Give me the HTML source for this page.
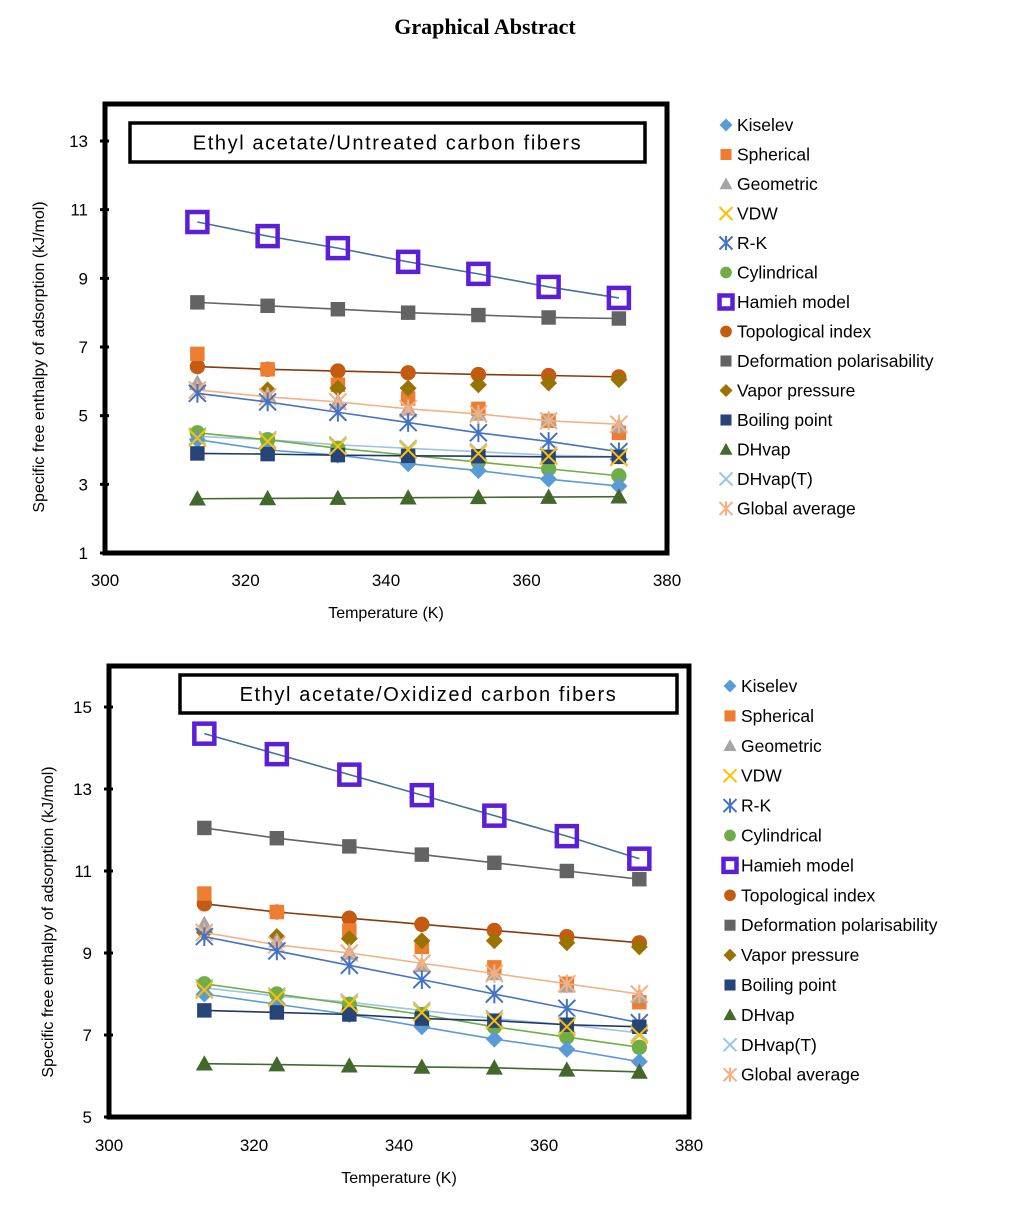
<!DOCTYPE html>
<html><head><meta charset="utf-8">
<style>
body{margin:0;background:#fff;width:1015px;height:1200px;overflow:hidden;font-family:"Liberation Sans",sans-serif}
svg text{font-family:"Liberation Sans","DejaVu Sans",sans-serif}
</style></head>
<body>
<svg id="s" width="1015" height="1200">
<text x="485" y="34" text-anchor="middle" font-weight="bold" font-size="22" style="font-family:'Liberation Serif',serif">Graphical Abstract</text>
</svg>
<script>
const temps=[313.15,323.15,333.15,343.15,353.15,363.15,373.15];
const seriesNames=["Kiselev","Spherical","Geometric","VDW","R-K","Cylindrical","Hamieh model","Topological index","Deformation polarisability","Vapor pressure","Boiling point","DHvap","DHvap(T)","Global average"];
const xTicks=[300,320,340,360,380];
const yTicks1=[1,3,5,7,9,11,13];
const yTicks2=[5,7,9,11,13,15];
const c1Kiselev=[4.3,4.0,3.85,3.6,3.4,3.15,2.95];
const c1Spherical=[6.8,6.35,5.9,5.5,5.2,4.85,4.5];
const c1Geometric=[5.95,5.6,5.4,5.2,5.05,4.9,4.7];
const c1VDW=[4.35,4.25,4.1,4.0,3.9,3.82,3.78];
const c1RK=[5.65,5.4,5.1,4.8,4.5,4.25,3.95];
const c1Cyl=[4.5,4.3,4.05,3.85,3.65,3.45,3.25];
const c1Hamieh=[10.64,10.23,9.88,9.48,9.13,8.75,8.43];
const c1Topo=[6.43,6.35,6.3,6.25,6.2,6.17,6.13];
const c1Deform=[8.3,8.2,8.1,8.0,7.93,7.86,7.83];
const c1Vapor=[5.85,5.75,5.8,5.8,5.9,5.95,6.05];
const c1Boil=[3.9,3.88,3.85,3.83,3.82,3.8,3.8];
const c1DH=[2.58,2.59,2.6,2.61,2.62,2.63,2.64];
const c1DHT=[4.4,4.3,4.15,4.05,3.95,3.85,3.8];
const c1Glob=[5.75,5.55,5.4,5.2,5.05,4.85,4.75];
const c2Kiselev=[8.0,7.75,7.5,7.2,6.9,6.65,6.35];
const c2Spherical=[10.45,10.0,9.55,9.15,8.65,8.25,7.8];
const c2Geometric=[9.7,9.3,9.0,8.7,8.5,8.2,7.95];
const c2VDW=[8.1,7.9,7.75,7.55,7.35,7.2,7.0];
const c2RK=[9.4,9.05,8.7,8.35,8.0,7.65,7.3];
const c2Cyl=[8.25,8.0,7.75,7.5,7.2,6.95,6.7];
const c2Hamieh=[14.35,13.85,13.35,12.85,12.35,11.85,11.3];
const c2Topo=[10.2,10.0,9.85,9.7,9.55,9.4,9.25];
const c2Deform=[12.05,11.8,11.6,11.4,11.2,11.0,10.8];
const c2Vapor=[9.5,9.4,9.35,9.3,9.3,9.25,9.15];
const c2Boil=[7.6,7.55,7.5,7.4,7.35,7.25,7.2];
const c2DH=[6.3,6.28,6.25,6.22,6.2,6.15,6.1];
const c2DHT=[8.15,7.95,7.8,7.6,7.4,7.25,7.05];
const c2Glob=[9.5,9.2,9.0,8.75,8.5,8.25,8.0];

const styles=[["#5b9bd5","diamond"],["#ed7d31","square"],["#a5a5a5","triangle"],["#ffc000","x"],["#4472c4","star"],["#70ad47","circle"],["#5b1fd8","hollow"],["#c55a11","circle"],["#636363","square"],["#997300","diamond"],["#264478","square"],["#43682b","triangle"],["#9dc3e6","x"],["#f4b183","star"]];
const lineCols=["#5b9bd5",null,null,null,"#4472c4","#70ad47","#44709a","#843c0c","#636363",null,"#203864","#43682b","#9dc3e6","#f4b183"];
const NS="http://www.w3.org/2000/svg";
const svg=document.getElementById('s');
function mk(tag,attrs,parent){const e=document.createElementNS(NS,tag);for(const k in attrs)e.setAttribute(k,attrs[k]);(parent||svg).appendChild(e);return e;}
function marker(g,type,col,x,y,s){
  let e;
  if(type=="diamond")e=mk('polygon',{points:`${x},${y-s} ${x+s},${y} ${x},${y+s} ${x-s},${y}`,fill:col},g);
  else if(type=="square")e=mk('rect',{x:x-s*0.85,y:y-s*0.85,width:s*1.7,height:s*1.7,fill:col},g);
  else if(type=="triangle")e=mk('polygon',{points:`${x},${y-s} ${x+s},${y+s*0.8} ${x-s},${y+s*0.8}`,fill:col},g);
  else if(type=="circle")e=mk('circle',{cx:x,cy:y,r:s*0.9,fill:col},g);
  else if(type=="hollow")e=mk('rect',{x:x-s,y:y-s,width:s*2,height:s*2,fill:'none',stroke:col,'stroke-width':4.5},g);
  else if(type=="x")e=mk('path',{d:`M${x-s},${y-s}L${x+s},${y+s}M${x-s},${y+s}L${x+s},${y-s}`,stroke:col,'stroke-width':2,fill:'none'},g);
  else e=mk('path',{d:`M${x-s},${y-s}L${x+s},${y+s}M${x-s},${y+s}L${x+s},${y-s}M${x},${y-s*1.1}L${x},${y+s*1.1}`,stroke:col,'stroke-width':2,fill:'none'},g);
  
  
  return e;
}
function chart(o){
  const g=mk('g',{});
  
  
  const xs=v=>o.x0+(v-300)/80*(o.x1-o.x0);
  const ys=v=>o.y0-(v-o.ymin)/(o.ymax-o.ymin)*(o.y0-o.yTop);
  o.yt.forEach(t=>{
    const tl=mk('line',{x1:o.x0-5,x2:o.x0+4,y1:ys(t),y2:ys(t),stroke:'#000','stroke-width':3},g);
    
    const tx=mk('text',{x:o.x0-17,y:ys(t)+6,'text-anchor':'end','font-size':17},g);tx.textContent=t;
    
    
  });
  xTicks.forEach(t=>{
    const tx=mk('text',{x:xs(t),y:o.xl,'text-anchor':'middle','font-size':17},g);tx.textContent=t;
    
    
  });
  const xt=mk('text',{x:(o.x0+o.x1)/2,y:o.xl+32,'text-anchor':'middle','font-size':16},g);xt.textContent='Temperature (K)';
  
  
  const yt=mk('text',{x:0,y:0,'text-anchor':'middle','font-size':16,transform:`translate(${o.ytx},${(o.yTop+o.y0)/2+10}) rotate(-90)`},g);yt.textContent='Specific free enthalpy of adsorption (kJ/mol)';
  
  
  const order=[8,7,1,9,2,13,4,12,5,0,10,3,11,6];
  order.forEach(i=>{
    const d=o.data[i],[col,type]=styles[i];
    if(lineCols[i]){
      const p=mk('polyline',{points:temps.map((t,j)=>xs(t)+','+ys(d[j])).join(' '),fill:'none',stroke:lineCols[i],'stroke-width':1.6},g);
      
      
    }
    temps.forEach((t,j)=>marker(g,type,col,xs(t),ys(d[j]),type=="hollow"?10:8.5));
  });
  const fr=mk('rect',{x:o.x0,y:o.fTop,width:o.x1-o.x0,height:o.y0-o.fTop,fill:'none',stroke:'#000','stroke-width':5},g);
  
  
  const bx=mk('rect',{x:o.bx[0],y:o.bx[1],width:o.bx[2],height:o.bx[3],fill:'#fff',stroke:'#000','stroke-width':3.5},g);
  
  
  const bt=mk('text',{x:o.bx[0]+o.bx[2]/2,y:o.bx[1]+o.bx[3]/2+7,'text-anchor':'middle','font-size':20,'letter-spacing':'1.6'},g);bt.textContent=o.title;
  
  
  seriesNames.forEach((n,i)=>{
    const [col,type]=styles[i];const y=o.ly+i*o.ls;
    marker(g,type,col,o.lx,y,type=="hollow"?6.5:6.5);
    const t=mk('text',{x:o.lx+11,y:y+6,'font-size':17.5},g);t.textContent=n;
    
    
  });
}
chart({name:'chart-untreated',x0:105,x1:667,y0:553,yTop:141,fTop:104,ymin:1,ymax:13,yt:yTicks1,xl:586,ytx:44,
  data:[c1Kiselev,c1Spherical,c1Geometric,c1VDW,c1RK,c1Cyl,c1Hamieh,c1Topo,c1Deform,c1Vapor,c1Boil,c1DH,c1DHT,c1Glob],
  bx:[130,123,515,39],title:'Ethyl acetate/Untreated carbon fibers',lx:726,ly:125,ls:29.5});
chart({name:'chart-oxidized',x0:109,x1:689,y0:1117,yTop:707,fTop:666,ymin:5,ymax:15,yt:yTicks2,xl:1151,ytx:53,
  data:[c2Kiselev,c2Spherical,c2Geometric,c2VDW,c2RK,c2Cyl,c2Hamieh,c2Topo,c2Deform,c2Vapor,c2Boil,c2DH,c2DHT,c2Glob],
  bx:[180,675,497,38],title:'Ethyl acetate/Oxidized carbon fibers',lx:730,ly:686,ls:29.9});
</script>
</body></html>
